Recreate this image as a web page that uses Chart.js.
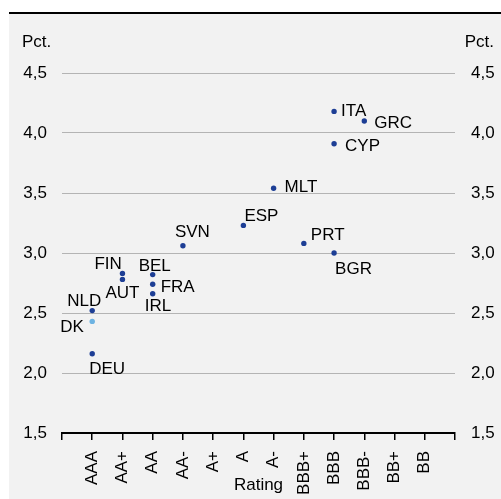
<!DOCTYPE html>
<html>
<head>
<meta charset="utf-8">
<script src="https://cdn.jsdelivr.net/npm/chart.js@4/dist/chart.umd.min.js"></script>
<style>
  html, body { margin: 0; padding: 0; background: #ffffff; }
  #frame {
    position: absolute; left: 9px; top: 12px;
    width: 492px; height: 485px;
    border-top: 2px solid #000000;
    background: #f2f2f2;
  }
  canvas { display: block; }
</style>
</head>
<body>
<div id="frame"><canvas id="chart" width="492" height="485"></canvas></div>
<script>
// Rating scale shown on the x axis (best to worst)
const ratings = ['AAA', 'AA+', 'AA', 'AA-', 'A+', 'A', 'A-', 'BBB+', 'BBB', 'BBB-', 'BB+', 'BB'];

// Countries, their rating and their yield (pct.)
const countries      = ['NLD', 'DK',  'DEU', 'FIN', 'AUT', 'BEL', 'FRA', 'IRL', 'SVN', 'ESP', 'MLT', 'PRT',  'ITA', 'CYP', 'BGR', 'GRC'];
const countryRatings = ['AAA', 'AAA', 'AAA', 'AA+', 'AA+', 'AA',  'AA',  'AA',  'AA-', 'A',   'A-',  'BBB+', 'BBB', 'BBB', 'BBB', 'BBB-'];
const yields         = [2.52,  2.43,  2.16,  2.83,  2.78,  2.82,  2.74,  2.66,  3.06,  3.23,  3.54,  3.08,   4.18,  3.91,  3.00,  4.10];

// Y axis range and step
const yMin = 1.5, yMax = 4.5, yStep = 0.5;

// Country highlighted in a lighter colour
const highlighted = 'DK';

// Placement of each country name relative to its dot (left edge, baseline)
const labelPlacement = {
  NLD: [-25, -5], DK: [-32, 11], DEU: [-3, 20],
  FIN: [-28, -4], AUT: [-17, 19],
  BEL: [-14, -4], FRA: [8, 8], IRL: [-8, 17],
  SVN: [-8, -9], ESP: [1, -4], MLT: [11, 4], PRT: [7, -3],
  ITA: [7, 5], GRC: [10, 7], CYP: [11, 7], BGR: [1, 21]
};

const FONT = "'Liberation Sans', Arial, sans-serif";
const DARK = '#1d3e95';
const LIGHT = '#6db3e2';

const points = countries.map((c, i) => ({
  x: ratings.indexOf(countryRatings[i]) + 1,
  y: yields[i]
}));

const comma = v => Number(v).toFixed(1).replace('.', ',');

const pointLabels = {
  id: 'pointLabels',
  afterDatasetsDraw(chart) {
    const ctx = chart.ctx;
    const meta = chart.getDatasetMeta(0);
    ctx.save();
    ctx.font = '17px ' + FONT;
    ctx.fillStyle = '#000000';
    ctx.textAlign = 'left';
    ctx.textBaseline = 'alphabetic';
    meta.data.forEach((el, i) => {
      const p = labelPlacement[countries[i]] || [8, 6];
      ctx.fillText(countries[i], el.x + p[0], el.y + p[1]);
    });
    ctx.restore();
  }
};

const axisTexts = {
  id: 'axisTexts',
  afterDraw(chart) {
    const ctx = chart.ctx;
    const a = chart.chartArea;
    ctx.save();
    ctx.font = '17px ' + FONT;
    ctx.fillStyle = '#000000';
    ctx.textBaseline = 'alphabetic';
    ctx.textAlign = 'left';
    ctx.fillText('Pct.', 13, 33);
    ctx.textAlign = 'right';
    ctx.fillText('Pct.', chart.width - 7, 33);
    ctx.textAlign = 'center';
    ctx.fillText('Rating', (a.left + a.right) / 2, 476);
    ctx.restore();
  }
};

new Chart(document.getElementById('chart'), {
  type: 'scatter',
  data: {
    datasets: [{
      data: points,
      pointRadius: 2.7,
      pointHoverRadius: 2.7,
      pointBorderWidth: 0,
      pointBackgroundColor: countries.map(c => c === highlighted ? LIGHT : DARK),
      showLine: false
    }]
  },
  options: {
    responsive: false,
    animation: false,
    devicePixelRatio: 1,
    layout: { padding: { top: 59, left: 0, right: 0, bottom: 0 } },
    plugins: { legend: { display: false }, tooltip: { enabled: false } },
    scales: {
      x: {
        type: 'linear',
        position: 'bottom',
        min: 0,
        max: ratings.length + 1,
        afterFit: s => { s.height = 66; },
        ticks: {
          stepSize: 1,
          autoSkip: false,
          minRotation: 90,
          maxRotation: 90,
          padding: 11,
          color: '#000000',
          font: { family: FONT, size: 17 },
          callback: v => ratings[v - 1] || ''
        },
        grid: {
          drawOnChartArea: false,
          drawTicks: true,
          tickLength: 7,
          color: '#000000',
          lineWidth: 1.5
        },
        border: { display: true, color: '#000000', width: 2 }
      },
      y: {
        position: 'left',
        min: yMin,
        max: yMax,
        afterFit: s => { s.width = 53; },
        ticks: {
          stepSize: yStep,
          padding: 15,
          color: '#000000',
          font: { family: FONT, size: 17 },
          callback: comma
        },
        grid: {
          drawTicks: false,
          tickLength: 0,
          color: ctx => ctx.tick && ctx.tick.value === yMin ? 'rgba(0,0,0,0)' : '#b4b4b4',
          lineWidth: 1
        },
        border: { display: false }
      },
      y2: {
        position: 'right',
        min: yMin,
        max: yMax,
        afterFit: s => { s.width = 46; },
        ticks: {
          stepSize: yStep,
          padding: 16,
          color: '#000000',
          font: { family: FONT, size: 17 },
          callback: comma
        },
        grid: { drawOnChartArea: false, drawTicks: false, tickLength: 0 },
        border: { display: false }
      }
    }
  },
  plugins: [pointLabels, axisTexts]
});
</script>
</body>
</html>
